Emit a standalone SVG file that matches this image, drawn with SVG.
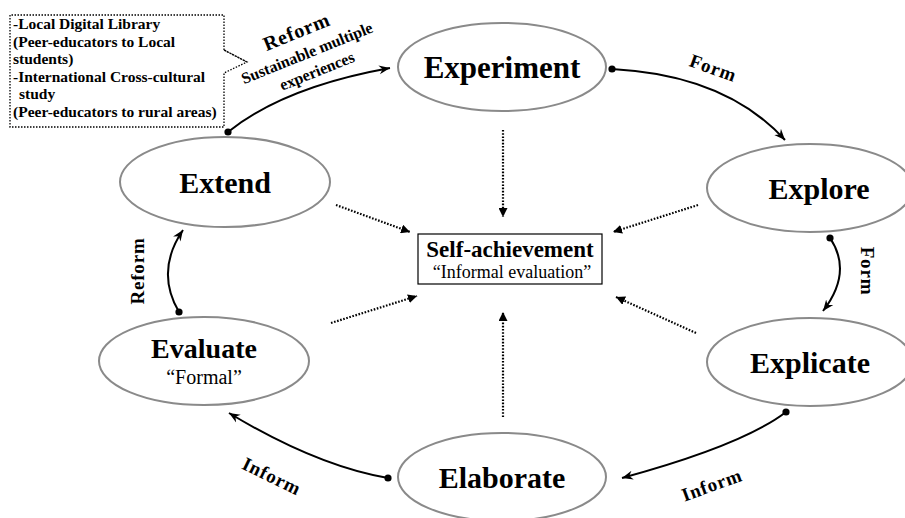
<svg xmlns="http://www.w3.org/2000/svg" width="905" height="518" viewBox="0 0 905 518">
<defs>
<style>
.node ellipse{fill:#fff;stroke:#8a8a8a;stroke-width:2}
.t{font-family:"Liberation Serif","Times New Roman",serif;fill:#000}
.big{font-size:30px;font-weight:bold;text-anchor:middle}
.lbl{font-size:19px;font-weight:bold;text-anchor:middle;letter-spacing:0.8px}
.note{font-size:15.5px;font-weight:bold}
.con{fill:none;stroke:#000;stroke-width:2}
.dot{fill:none;stroke:#000;stroke-width:2.2;stroke-dasharray:1.6 1.6}
</style>
<marker id="ah" markerUnits="userSpaceOnUse" markerWidth="12" markerHeight="10" refX="11" refY="5" orient="auto">
<path d="M0,0.5 L11,5 L0,9.5 L3.5,5 z" fill="#000"/>
</marker>
<marker id="dh" markerUnits="userSpaceOnUse" markerWidth="10" markerHeight="9" refX="9" refY="4.5" orient="auto">
<path d="M0,0 L9,4.5 L0,9 z" fill="#000"/>
</marker>
<marker id="bd" markerUnits="userSpaceOnUse" markerWidth="8" markerHeight="8" refX="4" refY="4">
<circle cx="4" cy="4" r="3.6" fill="#000"/>
</marker>
</defs>
<rect width="905" height="518" fill="#fff"/>

<g id="note">
<path d="M224,50 L224,15 L10,15 L10,127 L224,127 L224,73 L247,62 Z" fill="none" stroke="#000" stroke-width="1.3" stroke-dasharray="1.5 1.5"/>
<path d="M224,50 L247,62" fill="none" stroke="#000" stroke-width="1.3" stroke-dasharray="1.5 1.5"/>
<text class="t note" x="13" y="29">-Local Digital Library</text>
<text class="t note" x="13" y="47">(Peer-educators to Local</text>
<text class="t note" x="13" y="64">students)</text>
<text class="t note" x="13" y="82">-International Cross-cultural</text>
<text class="t note" x="19" y="99">study</text>
<text class="t note" x="13" y="117">(Peer-educators to rural areas)</text>
</g>

<g id="connectors">
<path class="con" d="M228,132 Q284,87 390,68" marker-start="url(#bd)" marker-end="url(#ah)"/>
<path class="con" d="M612,69 Q726,75 785,140" marker-start="url(#bd)" marker-end="url(#ah)"/>
<path class="con" d="M830,238 Q853,272 823,311" marker-start="url(#bd)" marker-end="url(#ah)"/>
<path class="con" d="M786,412 Q743,445 622,478" marker-start="url(#bd)" marker-end="url(#ah)"/>
<path class="con" d="M388,478 Q317,466 229,413" marker-start="url(#bd)" marker-end="url(#ah)"/>
<path class="con" d="M179,312 Q155,271 183,230" marker-start="url(#bd)" marker-end="url(#ah)"/>

<path class="dot" d="M503,130 L503,217" marker-end="url(#dh)"/>
<path class="dot" d="M503,417 L503,312" marker-end="url(#dh)"/>
<path class="dot" d="M336,205 L410,232" marker-end="url(#dh)"/>
<path class="dot" d="M698,205 L613,232" marker-end="url(#dh)"/>
<path class="dot" d="M331,323 L417,296" marker-end="url(#dh)"/>
<path class="dot" d="M696,333 L616,297" marker-end="url(#dh)"/>

<text class="t lbl" transform="translate(299,38) rotate(-22)" style="font-size:20px">Reform</text>
<text class="t" transform="translate(309,58) rotate(-22)" style="font-size:16px;font-weight:bold;text-anchor:middle">Sustainable multiple</text>
<text class="t" transform="translate(319,76) rotate(-22)" style="font-size:16px;font-weight:bold;text-anchor:middle">experiences</text>
<text class="t lbl" transform="translate(711,74) rotate(20)">Form</text>
<text class="t lbl" transform="translate(861,271) rotate(90)">Form</text>
<text class="t lbl" transform="translate(714,491) rotate(-20)">Inform</text>
<text class="t lbl" transform="translate(269,482) rotate(26)">Inform</text>
<text class="t lbl" transform="translate(144,271) rotate(-90)">Reform</text>
</g>

<g id="experiment" class="node">
<ellipse cx="502" cy="67" rx="104" ry="44"/>
<text class="t big" x="502" y="78" style="font-size:31px">Experiment</text>
</g>
<g id="explore" class="node">
<ellipse cx="810" cy="188" rx="103" ry="44"/>
<text class="t big" x="819" y="199">Explore</text>
</g>
<g id="explicate" class="node">
<ellipse cx="810" cy="362" rx="103" ry="44"/>
<text class="t big" x="810" y="373">Explicate</text>
</g>
<g id="elaborate" class="node">
<ellipse cx="502" cy="477" rx="104" ry="44"/>
<text class="t big" x="502" y="488">Elaborate</text>
</g>
<g id="evaluate" class="node">
<ellipse cx="204" cy="361" rx="105" ry="44"/>
<text class="t big" x="204" y="358" style="font-size:28px">Evaluate</text>
<text class="t" x="204" y="384" style="font-size:20px;text-anchor:middle">“Formal”</text>
</g>
<g id="extend" class="node">
<ellipse cx="225" cy="182" rx="105" ry="45"/>
<text class="t big" x="225" y="193">Extend</text>
</g>
<g id="self">
<rect x="418" y="234" width="184" height="50" fill="#fff" stroke="#000" stroke-width="1.2"/>
<text class="t" x="510" y="257" style="font-size:23px;font-weight:bold;text-anchor:middle">Self-achievement</text>
<text class="t" x="512" y="278" style="font-size:18px;text-anchor:middle">“Informal evaluation”</text>
</g>
</svg>
